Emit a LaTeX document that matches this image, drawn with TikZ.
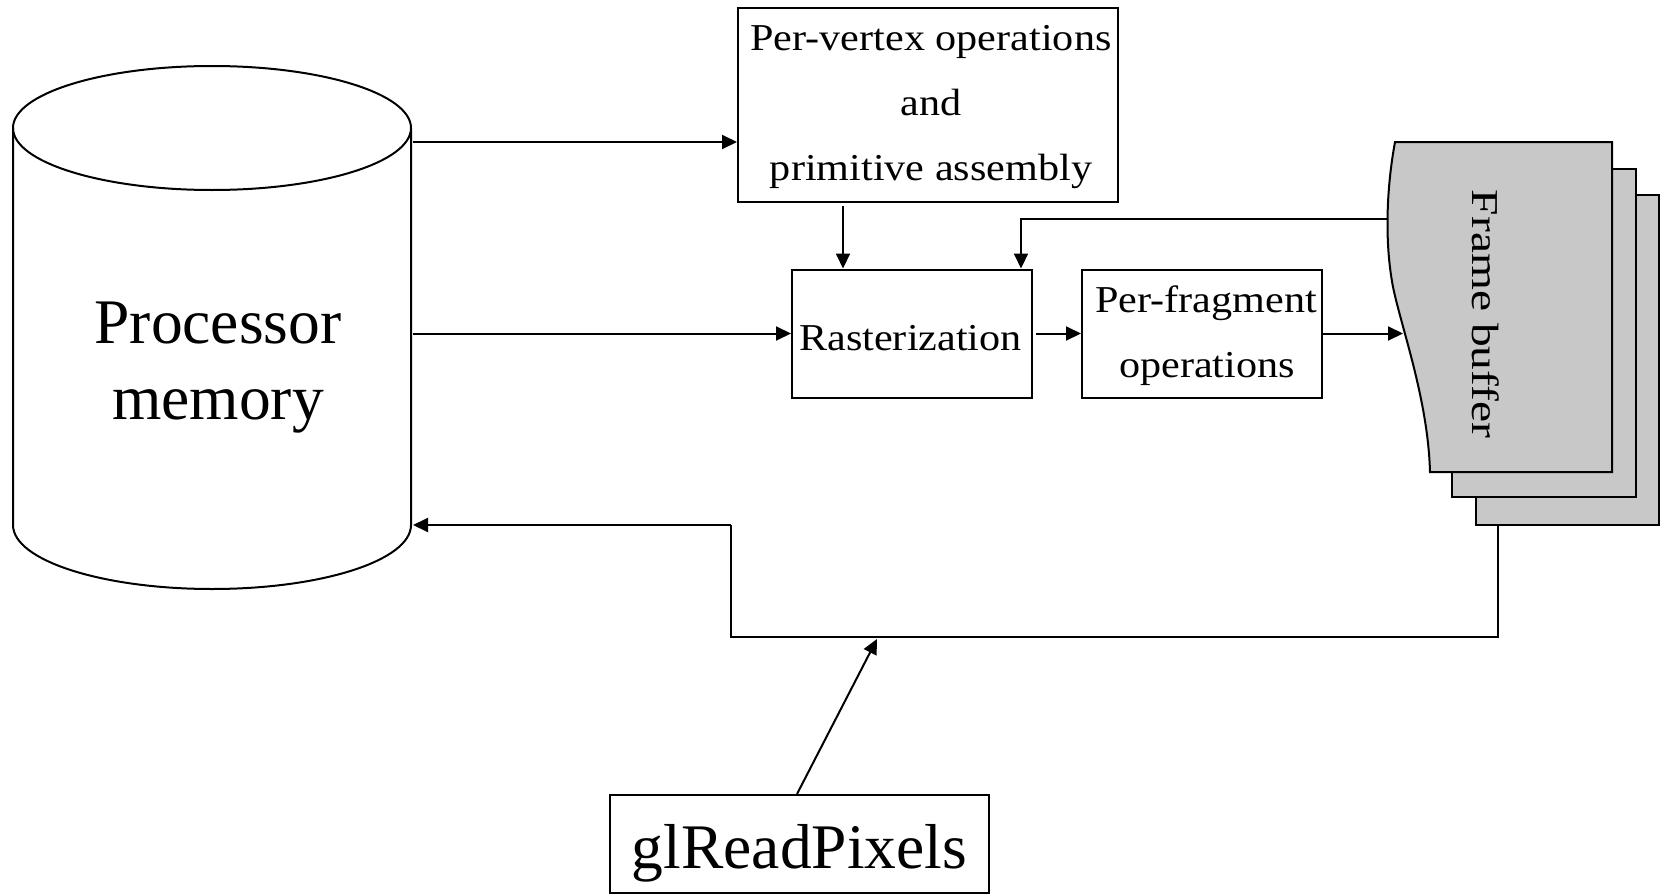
\documentclass[tikz,border=0pt]{standalone}
\usepackage{fontspec}
\setmainfont{Liberation Serif}
\newfontfamily\boxfont[FakeStretch=1.11]{Liberation Serif}
\newfontfamily\fbfont[FakeStretch=1.25]{Liberation Serif}
\usetikzlibrary{arrows.meta,calc}
\definecolor{sheetgray}{RGB}{200,200,200}
\tikzset{
  box/.style={draw, line width=2pt, inner sep=0pt, fill=white},
  sheet/.style={draw, line width=2pt, inner sep=0pt, fill=sheetgray},
  arr/.style={line width=2pt, -{Triangle[length=15pt,width=14pt]}},
  plain/.style={line width=2pt},
  small/.style={inner sep=0pt, anchor=base, font=\boxfont\fontsize{38pt}{42pt}\selectfont},
  big/.style={inner sep=0pt, anchor=base, font=\fontsize{63.5pt}{70pt}\selectfont},
}
\begin{document}
\begin{tikzpicture}[x=1pt,y=-1pt]
\useasboundingbox (0,0) rectangle (1671,894);

% Processor memory cylinder
\node[inner sep=0pt, minimum width=398pt, minimum height=523pt] (mem) at (212,327.5) {};
\draw[plain] (13,128) -- (13,525) arc[start angle=180, end angle=0, x radius=199, y radius=64] -- (411,128);
\draw[plain] (212,128) ellipse [x radius=199, y radius=62];
\node[big] (pm1) at (218,343) {Processor};
\node[big] (pm2) at (218,419) {memory};

% Boxes
\node[box, minimum width=380pt, minimum height=194pt] (pv) at (928,105) {};
\node[small] (pv1) at (931,50) {Per-vertex operations};
\node[small] (pv2) at (931,115) {and};
\node[small] (pv3) at (931,180) {primitive assembly};

\node[box, minimum width=240pt, minimum height=128pt] (ra) at (912,333.5) {};
\node[small] (ra1) at (910.5,350) {Rasterization};

\node[box, minimum width=240pt, minimum height=128pt] (pf) at (1202,333.5) {};
\node[small] (pf1) at (1206,312) {Per-fragment};
\node[small] (pf2) at (1207,377) {operations};

\node[box, minimum width=379pt, minimum height=98pt] (gl) at (799.5,844) {};
\node[big] (gl1) at (799.5,868) {glReadPixels};

% Frame buffer sheets
\node[sheet, minimum width=183pt, minimum height=330pt] (fb3) at (1567.5,360) {};
\node[sheet, minimum width=184pt, minimum height=328pt] (fb2) at (1544,333) {};
\draw[sheet] (1395,142) -- (1612,142) -- (1612,472) -- (1430,472)
  .. controls (1428,400) and (1402,330) .. (1393,287)
  .. controls (1384,240) and (1387,185) .. (1395,142) -- cycle;
\node[inner sep=0pt, rotate=-90, font=\fbfont\fontsize{38pt}{42pt}\selectfont] (fbt) at (1486,314) {Frame buffer};

% Connectors
\coordinate (m1) at (413,142);
\draw[arr] (m1) -- (m1 -| pv.west);
\coordinate (m2) at (413,333.5);
\draw[arr] (m2) -- (m2 -| ra.west);
\coordinate (v1) at (843,206);
\draw[arr] (v1) -- (v1 |- ra.north);
\draw[arr] ([xshift=3pt]ra.east) -- (pf.west);
\coordinate (ft) at (1403,333.5);
\draw[arr] (pf.east) -- (ft);
\coordinate (f1) at (1388,219);
\draw[arr] (f1) -| ([xshift=109pt]ra.north);
\coordinate (f2) at (1498,525);
\coordinate (c1) at (731,637);
\coordinate (c2) at (731,525);
\coordinate (m3) at (413,525);
\draw[plain] (f2) |- (c1) -- (c2);
\draw[arr] (c2) -- (m3);
\coordinate (g1) at (877,639);
\draw[arr] ([xshift=-2.5pt]gl.north) -- (g1);
\end{tikzpicture}
\end{document}
